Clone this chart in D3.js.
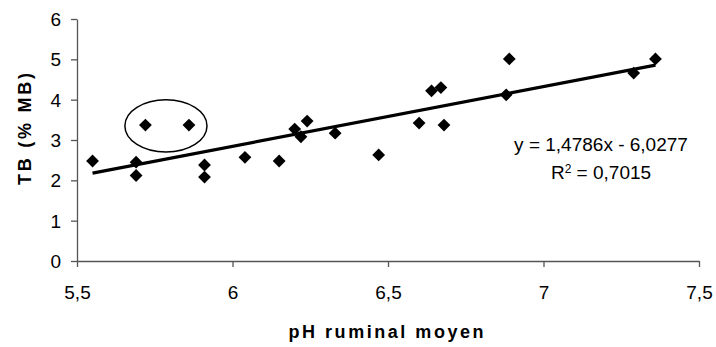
<!DOCTYPE html>
<html lang="fr">
	<head>
		<meta charset="utf-8">
		<title>TB vs pH ruminal</title>
		<script src="https://d3js.org/d3.v7.min.js"></script>
		<style type="text/css">
			body { margin: 0; background: #fff; }
			text { font-family: "Liberation Sans", Arial, sans-serif; }
		</style>
	</head>
	<body>
		<script type="text/javascript">
			// data
			var phValues = [5.55, 5.69, 5.69, 5.72, 5.86, 5.91, 5.91, 6.04, 6.15, 6.20, 6.22, 6.24,
				6.33, 6.47, 6.60, 6.64, 6.67, 6.68, 6.88, 6.89, 7.29, 7.36];
			var tbValues = [2.48, 2.45, 2.12, 3.37, 3.37, 2.38, 2.08, 2.57, 2.48, 3.27, 3.08, 3.47,
				3.17, 2.63, 3.42, 4.22, 4.30, 3.37, 4.12, 5.01, 4.66, 5.01];
			var xTicks = [5.5, 6, 6.5, 7, 7.5];
			var yTicks = [0, 1, 2, 3, 4, 5, 6];
			var slope = 1.4786, intercept = -6.0277;
			var eqLabel = "y = 1,4786x - 6,0277";
			var r2Label = "0,7015";
			// circled points (centre and half-axes in data units)
			var circled = {ph: 5.786, tb: 3.35, rph: 0.132, rtb: 0.645};

			var w = 716, h = 347;
			var x0 = 77, x1 = 699, yTop = 19, yBottom = 261;

			var svg = d3.select("body").append("svg")
				.attr("width", w)
				.attr("height", h);

			var x = d3.scaleLinear().domain([5.5, 7.5]).range([x0, x1]);
			var y = d3.scaleLinear().domain([0, 6]).range([yBottom, yTop]);

			var fmt = function(d){ return String(d).replace(".", ","); };

			// x axis
			var gx = svg.append("g")
				.attr("transform", "translate(0," + yBottom + ")")
				.call(d3.axisBottom(x).tickValues(xTicks).tickFormat(fmt).tickSize(6).tickSizeOuter(0));
			gx.selectAll("text")
				.attr("y", 38)
				.attr("dy", 0)
				.style("font-size", "19px")
				.attr("fill", "#000");

			// y axis
			var gy = svg.append("g")
				.attr("transform", "translate(" + x0 + ",0)")
				.call(d3.axisLeft(y).tickValues(yTicks).tickFormat(fmt).tickSize(6).tickSizeOuter(0));
			gy.selectAll("text")
				.attr("x", -16)
				.attr("dy", "0.35em")
				.style("font-size", "19px")
				.attr("fill", "#000");

			svg.selectAll(".domain, .tick line")
				.attr("stroke", "#555")
				.attr("stroke-width", 1.3);

			//label x
			svg.append("text")
				.attr("x", 386)
				.attr("y", 338)
				.attr("text-anchor", "middle")
				.attr("textLength", 195)
				.attr("lengthAdjust", "spacing")
				.style("font-size", "18px")
				.style("font-weight", "bold")
				.text("pH ruminal moyen");

			//label y
			svg.append("text")
				.attr("transform", "translate(31,129) rotate(-90)")
				.attr("text-anchor", "middle")
				.attr("textLength", 112)
				.attr("lengthAdjust", "spacing")
				.style("font-size", "18px")
				.style("font-weight", "bold")
				.text("TB (% MB)");

			// trend line
			var xmin = d3.min(phValues), xmax = d3.max(phValues);
			svg.append("line")
				.attr("x1", x(xmin))
				.attr("y1", y(slope * xmin + intercept))
				.attr("x2", x(xmax))
				.attr("y2", y(slope * xmax + intercept))
				.attr("stroke", "#000")
				.attr("stroke-width", 3.2);

			// points
			var pts = d3.range(phValues.length);
			svg.selectAll("path.pt")
				.data(pts)
				.enter()
				.append("path")
				.attr("class", "pt")
				.attr("d", d3.symbol().type(d3.symbolSquare).size(82))
				.attr("transform", function(i){
					return "translate(" + x(phValues[i]) + "," + y(tbValues[i]) + ") rotate(45)";
				})
				.attr("fill", "#000");

			// ellipse round the two outliers
			svg.append("ellipse")
				.attr("cx", x(circled.ph))
				.attr("cy", y(circled.tb))
				.attr("rx", x(circled.ph + circled.rph) - x(circled.ph))
				.attr("ry", y(circled.tb) - y(circled.tb + circled.rtb))
				.attr("fill", "none")
				.attr("stroke", "#000")
				.attr("stroke-width", 1.5);

			// equation
			svg.append("text")
				.attr("x", 601)
				.attr("y", 151)
				.attr("text-anchor", "middle")
				.style("font-size", "19px")
				.text(eqLabel);

			var r2 = svg.append("text")
				.attr("x", 601)
				.attr("y", 179)
				.attr("text-anchor", "middle")
				.style("font-size", "19px");
			r2.append("tspan").text("R");
			r2.append("tspan").attr("dy", -6).style("font-size", "12px").text("2");
			r2.append("tspan").attr("dy", 6).text(" = " + r2Label);
		</script>
	</body>
</html>
